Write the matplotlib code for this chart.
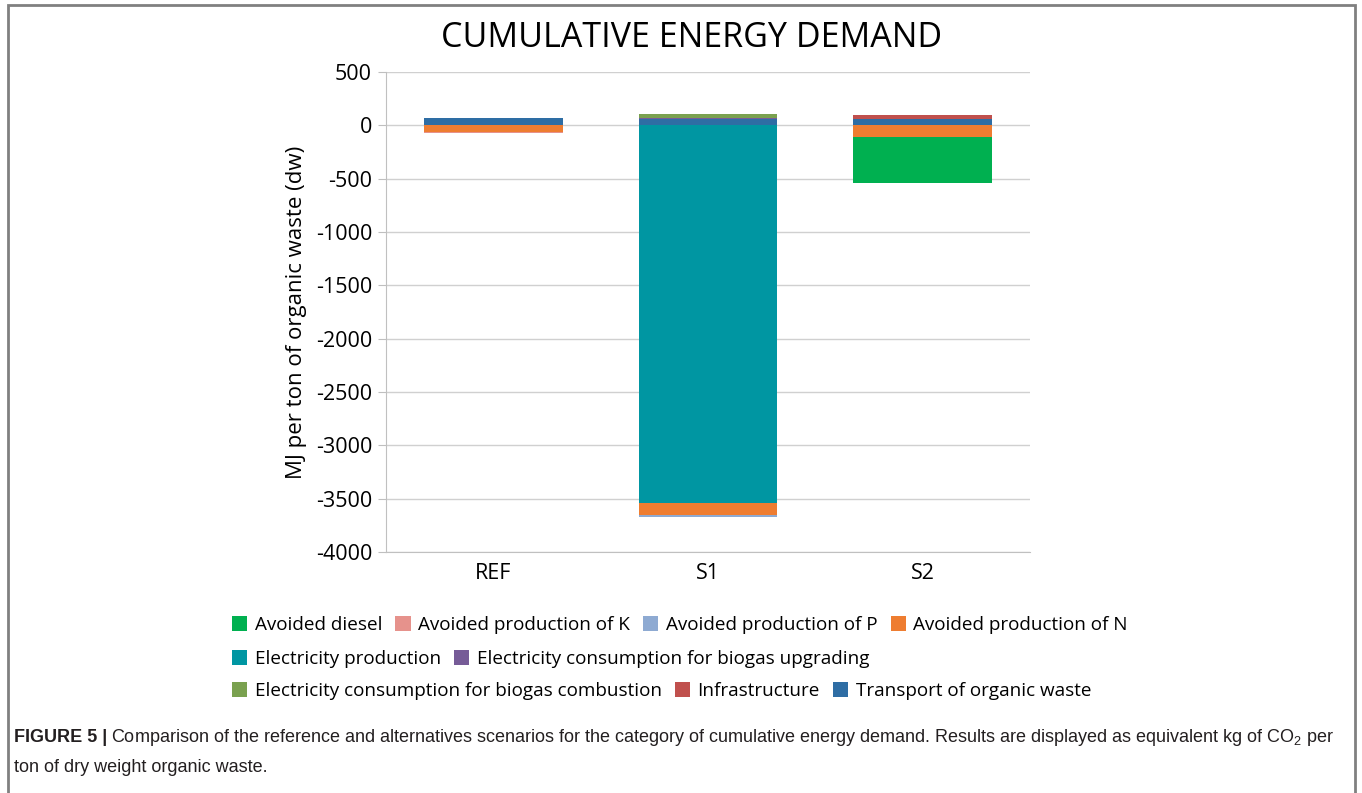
import matplotlib.pyplot as plt
from matplotlib.patches import Patch, Rectangle
import numpy as np

plt.rcParams['mathtext.fontset'] = 'custom'
plt.rcParams['mathtext.rm'] = 'Liberation Sans'
plt.rcParams['axes.unicode_minus'] = False

# Scenario data (MJ per ton of organic waste, dw)
scenarios = ['REF', 'S1', 'S2']

transport = [65, 55, 55]
infrastructure = [0, 0, 45]
upgrading = [0, 10, 0]
combustion = [0, 45, 0]

electricity_prod = [0, -3540, 0]
avoided_n = [-65, -115, -105]
avoided_p = [0, -15, -8]
avoided_k = [-5, -5, 0]
avoided_diesel = [0, 0, -430]

colors = {
    'Avoided diesel': '#00b050',
    'Avoided production of K': '#e6928c',
    'Avoided production of P': '#8eaad2',
    'Avoided production of N': '#ee7d31',
    'Electricity production': '#0096a2',
    'Electricity consumption for biogas upgrading': '#765b97',
    'Electricity consumption for biogas combustion': '#7aa14f',
    'Infrastructure': '#c0504d',
    'Transport of organic waste': '#2e6da4',
}

pos_series = [('Transport of organic waste', transport),
              ('Infrastructure', infrastructure),
              ('Electricity consumption for biogas upgrading', upgrading),
              ('Electricity consumption for biogas combustion', combustion)]
neg_series = [('Electricity production', electricity_prod),
              ('Avoided production of N', avoided_n),
              ('Avoided production of P', avoided_p),
              ('Avoided production of K', avoided_k),
              ('Avoided diesel', avoided_diesel)]

fig = plt.figure(figsize=(13.62, 7.93), dpi=100)
ax = fig.add_axes([386 / 1362, 1 - 552 / 793, 644 / 1362, 480 / 793])

x = np.arange(len(scenarios))
width = 0.645
base = np.zeros(len(scenarios))
for name, vals in pos_series:
    ax.bar(x, vals, width, bottom=base, color=colors[name], zorder=3)
    base = base + np.array(vals)
base = np.zeros(len(scenarios))
for name, vals in neg_series:
    ax.bar(x, vals, width, bottom=base, color=colors[name], zorder=3)
    base = base + np.array(vals)

ax.set_xlim(-0.5, 2.5)
ax.set_ylim(-4000, 500)
ax.set_yticks(np.arange(-4000, 501, 500))
ax.set_xticks(x)
ax.set_xticklabels(scenarios)
ax.tick_params(axis='both', labelsize=15.5, colors='#000000', length=0, pad=8)
ax.tick_params(axis='y', length=6, color='#bfbfbf', pad=4)
for lab in ax.get_xticklabels() + ax.get_yticklabels():
    lab.set_fontfamily('Open Sans')
ax.grid(axis='y', color='#d0d0d0', linewidth=1, zorder=0)
for s in ['top', 'right']:
    ax.spines[s].set_visible(False)
ax.spines['left'].set_color('#c0c0c0')
ax.spines['bottom'].set_color('#c0c0c0')
ax.set_ylabel('MJ per ton of organic waste (dw)', fontsize=16, fontfamily='Open Sans', labelpad=6)
fig.text(692 / 1362, 1 - 38 / 793, 'CUMULATIVE ENERGY DEMAND', fontsize=24.5, fontfamily='Open Sans',
         ha='center', va='center')

# Legend in three rows
rows = [['Avoided diesel', 'Avoided production of K', 'Avoided production of P', 'Avoided production of N'],
        ['Electricity production', 'Electricity consumption for biogas upgrading'],
        ['Electricity consumption for biogas combustion', 'Infrastructure', 'Transport of organic waste']]
row_y = [625, 659, 691]
for names, yy in zip(rows, row_y):
    handles = [Patch(facecolor=colors[n], label=n) for n in names]
    fig.legend(handles=handles, loc='center left', bbox_to_anchor=(215 / 1362, 1 - yy / 793),
               ncol=len(names), frameon=False, handlelength=0.8, handleheight=0.8,
               handletextpad=0.4, columnspacing=0.7, prop={'family': 'Open Sans', 'size': 13.6})

# Frame around figure
fig.patches.append(Rectangle((8 / 1362, -0.01), 1347 / 1362, 1 - 5 / 793 + 0.01, transform=fig.transFigure,
                             fill=False, edgecolor='#808080', linewidth=2))

# Caption
fig.canvas.draw()
renderer = fig.canvas.get_renderer()
t1 = fig.text(14 / 1362, 1 - 738 / 793, 'FIGURE 5 |', fontsize=13, fontweight='bold',
              fontfamily='Liberation Sans', va='center', color='#231f20')
bb = t1.get_window_extent(renderer)
fig.text(bb.x1 / fig.bbox.width + 4 / 1362, 1 - 738 / 793,
         'Comparison of the reference and alternatives scenarios for the category of cumulative energy demand. '
         'Results are displayed as equivalent kg of CO$_2$ per',
         fontsize=13, fontfamily='Liberation Sans', va='center', color='#231f20')
fig.text(14 / 1362, 1 - 767 / 793, 'ton of dry weight organic waste.', fontsize=13,
         fontfamily='Liberation Sans', va='center', color='#231f20')

fig.savefig('out.png', dpi=100)
